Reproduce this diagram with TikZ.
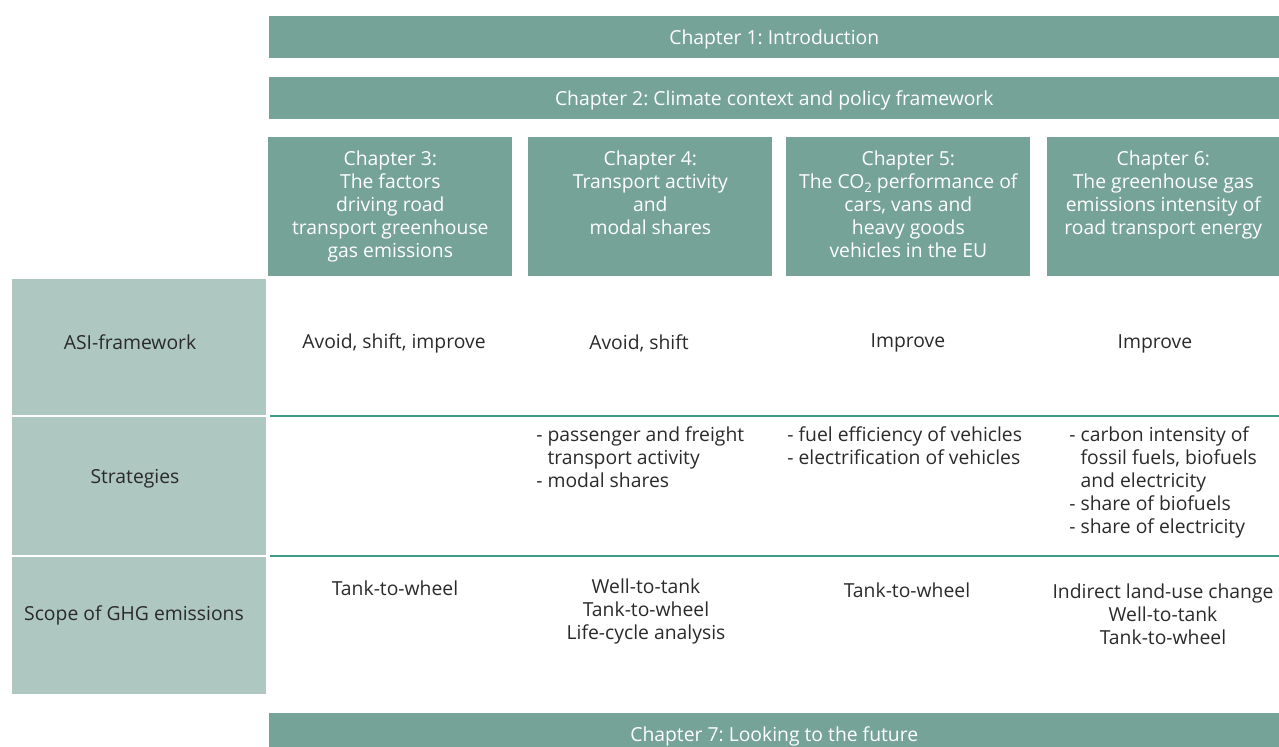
\documentclass[tikz,border=0pt]{standalone}
\usepackage{fontspec}
\setmainfont{Open Sans}
\usetikzlibrary{positioning}

\definecolor{chapfill}{HTML}{76A398}
\definecolor{rowfill}{HTML}{AEC7C0}
\definecolor{rowrule}{HTML}{3F9A8C}
\definecolor{bodytext}{HTML}{2A2A2A}

\begin{document}
\frenchspacing
\begin{tikzpicture}[x=0.02cm,y=-0.02cm,
    every node/.style={font=\fontsize{11}{13.2}\selectfont,inner sep=0pt},
    bar/.style={fill=chapfill,text=white,anchor=north west,minimum width=20.2cm,minimum height=0.84cm,text height=10.6pt,text depth=2.6pt},
    chapbox/.style={fill=chapfill,anchor=north west,minimum height=2.78cm},
    chaptext/.style={text=white,align=center,anchor=north},
    rowbox/.style={fill=rowfill,text=bodytext,anchor=north west,minimum width=5.08cm},
    cell/.style={text=bodytext,align=center},
    listcell/.style={text=bodytext,align=left,anchor=north west},
    rowline/.style={rowrule,line width=1.2pt}]
  \clip (0,0) rectangle (1279,747);

  \node[bar] (ch1) at (269,16) {Chapter 1: Introduction};
  \node[bar] (ch2) at (269,77) {Chapter 2: Climate context and policy framework};

  \node[chapbox,minimum width=4.88cm] (ch3) at (268,137) {};
  \node[chapbox,minimum width=4.88cm] (ch4) at (528,137) {};
  \node[chapbox,minimum width=4.88cm] (ch5) at (786,137) {};
  \node[chapbox,minimum width=4.64cm] (ch6) at (1047,137) {};

  \node[chaptext,below=0.26cm of ch3.north] (t3) {Chapter 3:\\The factors\\driving road\\transport greenhouse\\gas emissions};
  \node[chaptext,below=0.26cm of ch4.north] (t4) {Chapter 4:\\Transport activity\\and\\modal shares};
  \node[chaptext,below=0.26cm of ch5.north] (t5) {Chapter 5:\\The CO\raisebox{-0.45ex}{\fontsize{7.5}{8}\selectfont 2} performance of\\cars, vans and\\heavy goods\\vehicles in the EU};
  \node[chaptext,below=0.26cm of ch6.north] (t6) {Chapter 6:\\The greenhouse gas\\emissions intensity of\\road transport energy};

  \node[rowbox,minimum height=2.72cm] (asi) at (12,279) {};
  \node[rowbox,minimum height=2.76cm] (strat) at (12,417) {};
  \node[rowbox,minimum height=2.74cm] (scope) at (12,557) {};
  \node[text=bodytext] (asilabel) at (130,342) {ASI-framework};
  \node[text=bodytext] (stratlabel) at (135,479) {Strategies};
  \node[text=bodytext] (scopelabel) at (134,615) {Scope of GHG emissions};

  \draw[rowline] ([xshift=2]asi.south east) -- (ch6.east |- asi.south);
  \draw[rowline] ([xshift=2]strat.south east) -- (ch6.east |- strat.south);

  % ASI-framework row
  \node[cell] (a3) at (394,343) {Avoid, shift, improve};
  \node[cell] (a4) at (639,343) {Avoid, shift};
  \node[cell] (a5) at (908,343) {Improve};
  \node[cell] (a6) at (1155,344) {Improve};

  % strategies row
  \node[listcell] (s4) at (536,426) {- passenger and freight\\\phantom{- }transport activity\\- modal shares};
  \node[listcell] (s5) at (787,426) {- fuel efficiency of vehicles\\- electrification of vehicles};
  \node[listcell] (s6) at (1069,426) {- carbon intensity of\\\phantom{- }fossil fuels, biofuels\\\phantom{- }and electricity\\- share of biofuels\\- share of electricity};

  % scope row
  \node[cell,anchor=north] (g3) at (395,580) {Tank-to-wheel};
  \node[cell,anchor=north] (g4) at (646,578) {Well-to-tank\\Tank-to-wheel\\Life-cycle analysis};
  \node[cell,anchor=north] (g5) at (907,582) {Tank-to-wheel};
  \node[cell,anchor=north] (g6) at (1163,583) {Indirect land-use change\\Well-to-tank\\Tank-to-wheel};

  \node[bar] (ch7) at (269,713) {Chapter 7: Looking to the future};
\end{tikzpicture}
\end{document}
